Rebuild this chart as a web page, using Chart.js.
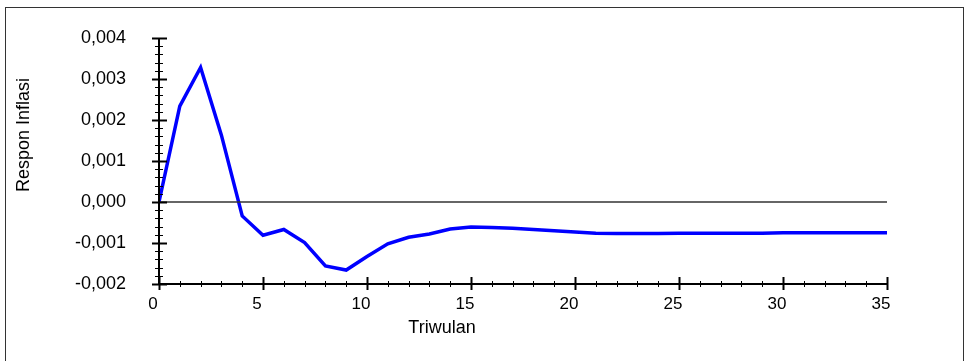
<!DOCTYPE html>
<html>
<head>
<meta charset="utf-8">
<script src="https://cdn.jsdelivr.net/npm/chart.js@4/dist/chart.umd.min.js"></script>
<style>
  html, body { margin: 0; padding: 0; background: #fff; }
  #wrap { width: 967px; height: 361px; position: relative; }
</style>
</head>
<body>
<div id="wrap"><canvas id="irfChart"></canvas></div>
<script>
// periode (triwulan) dan respon inflasi
const periods = [0, 1, 2, 3, 4, 5, 6, 7, 8, 9, 10, 11, 12, 13, 14, 15, 16, 17,
  18, 19, 20, 21, 22, 23, 24, 25, 26, 27, 28, 29, 30, 31, 32, 33, 34, 35];
const responInflasi = [0, 0.00234, 0.00328, 0.00163, -0.00034, -0.00081, -0.00067, -0.00099,
  -0.00156, -0.00166, -0.00133, -0.00102, -0.00086, -0.00078, -0.00066, -0.00061, -0.00062,
  -0.00064, -0.00067, -0.00070, -0.00073, -0.00076, -0.00077, -0.00077, -0.00077, -0.00076,
  -0.00076, -0.00076, -0.00076, -0.00076, -0.00075, -0.00075, -0.00075, -0.00075, -0.00075, -0.00075];
const yMin = -0.002, yMax = 0.004, yStep = 0.001, yMinor = 0.0002;
const xMin = 0, xMax = 35, xStep = 5;
const xTitle = "Triwulan";
const yTitle = "Respon Inflasi";

const FONT = "'Liberation Sans', Arial, sans-serif";

// garis nol, sumbu, tick mayor/minor, bingkai luar dan judul sumbu
const axesPlugin = {
  id: "axesPlugin",
  afterDraw(chart) {
    const ctx = chart.ctx;
    const xs = chart.scales.x, ys = chart.scales.y;
    const left = xs.getPixelForValue(xMin), right = xs.getPixelForValue(xMax);
    const top = ys.getPixelForValue(yMax), bottom = ys.getPixelForValue(yMin);
    ctx.save();

    // bingkai
    ctx.strokeStyle = "#333";
    ctx.lineWidth = 1;
    ctx.strokeRect(5.5, 7.5, 958, 400);

    // garis nol
    const y0 = ys.getPixelForValue(0);
    ctx.strokeStyle = "#333";
    ctx.lineWidth = 1.5;
    ctx.beginPath(); ctx.moveTo(left, y0); ctx.lineTo(right, y0); ctx.stroke();

    // sumbu
    ctx.strokeStyle = "#000";
    ctx.lineWidth = 2;
    ctx.beginPath();
    ctx.moveTo(left, top); ctx.lineTo(left, bottom); ctx.lineTo(right, bottom);
    ctx.stroke();

    // tick sumbu y
    const nY = Math.round((yMax - yMin) / yMinor);
    for (let i = 0; i <= nY; i++) {
      const v = yMin + i * yMinor;
      const py = Math.round(ys.getPixelForValue(v)) + 0.5;
      const major = i % 5 === 0;
      ctx.lineWidth = major ? 2 : 1;
      ctx.beginPath();
      ctx.moveTo(left - (major ? 7 : 4), py);
      ctx.lineTo(left + (major ? 8 : 4), py);
      ctx.stroke();
    }

    // tick sumbu x
    for (let v = xMin; v <= xMax; v++) {
      const px = Math.round(xs.getPixelForValue(v)) + 0.5;
      const major = v % xStep === 0;
      ctx.lineWidth = major ? 2 : 1;
      ctx.beginPath();
      ctx.moveTo(px, bottom - (major ? 7 : 3));
      ctx.lineTo(px, bottom + (major ? 6 : 3));
      ctx.stroke();
    }

    // judul sumbu
    ctx.fillStyle = "#000";
    ctx.font = "18px " + FONT;
    ctx.textAlign = "center";
    ctx.textBaseline = "middle";
    ctx.fillText(xTitle, 442, 328);
    ctx.translate(24, 135);
    ctx.rotate(-Math.PI / 2);
    ctx.fillText(yTitle, 0, 0);
    ctx.restore();
  }
};

const chart = new Chart(document.getElementById("irfChart").getContext("2d"), {
  type: "line",
  data: {
    labels: periods,
    datasets: [{
      label: yTitle,
      data: periods.map((p, i) => ({ x: p, y: responInflasi[i] })),
      borderColor: "#0000ff",
      borderWidth: 3.5,
      pointRadius: 0,
      fill: false,
      tension: 0
    }]
  },
  options: {
    responsive: true,
    maintainAspectRatio: false,
    animation: false,
    layout: { padding: { top: 38, right: 80, left: 0, bottom: 0 } },
    plugins: { legend: { display: false }, tooltip: { enabled: false } },
    scales: {
      x: {
        type: "linear",
        min: xMin,
        max: xMax,
        afterFit(scale) { scale.height = 77; },
        grid: { display: false, drawTicks: true, tickLength: 8 },
        border: { display: false },
        ticks: {
          stepSize: xStep,
          padding: 2,
          labelOffset: -6,
          color: "#000",
          maxRotation: 0,
          font: { family: FONT, size: 17 }
        }
      },
      y: {
        min: yMin,
        max: yMax,
        afterFit(scale) { scale.width = 159; },
        // tickLength hanya dipakai untuk jarak label, garis tick digambar plugin
        grid: { display: false, drawTicks: true, tickLength: 33 },
        border: { display: false },
        ticks: {
          stepSize: yStep,
          padding: 0,
          color: "#000",
          font: { family: FONT, size: 18 },
          callback: v => v.toFixed(3).replace(".", ",").replace(/^-0,000$/, "0,000")
        }
      }
    }
  },
  plugins: [axesPlugin]
});
</script>
</body>
</html>
